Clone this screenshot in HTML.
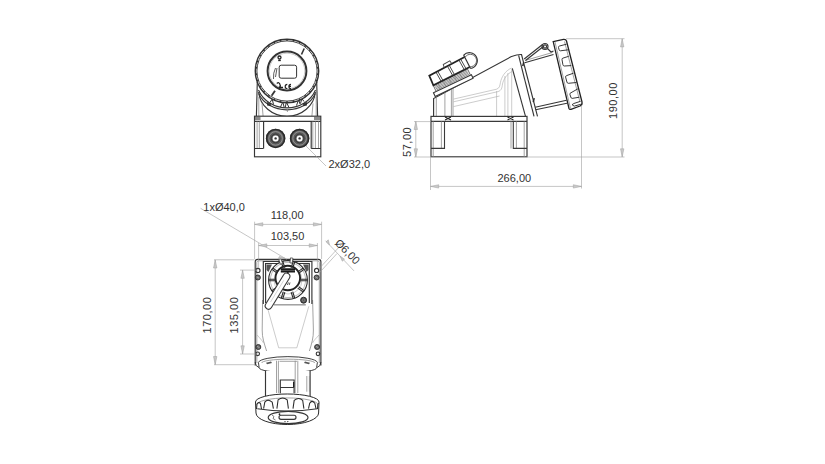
<!DOCTYPE html>
<html><head><meta charset="utf-8">
<style>
html,body{margin:0;padding:0;background:#fff;width:825px;height:464px;overflow:hidden}
svg{display:block}
text{font-family:"Liberation Sans",sans-serif;font-size:11px;fill:#333}
.o{fill:none;stroke:#363636;stroke-width:1.15}
.t{fill:none;stroke:#8a8a8a;stroke-width:0.8}
.l{fill:none;stroke:#aaa;stroke-width:0.6}
.d{fill:none;stroke:#a0a0a0;stroke-width:0.6}
.k{fill:#2a2a2a;stroke:none}
.w{fill:#fff}
.rv{letter-spacing:0.55px}
.ar{fill:#c8c8c8;stroke:#a0a0a0;stroke-width:0.5}
</style></head><body>
<svg width="825" height="464" viewBox="0 0 825 464">
<rect width="825" height="464" fill="#fff"/>
<!-- ===== FRONT VIEW (top-left) ===== -->
<g id="front">
  <!-- rear rim arcs -->
  <path class="o" d="M258.6 92 A28.5 26.5 0 0 0 315.4 92"/>
  <path class="o" d="M258.5 90 A30.5 27.8 0 0 0 315.5 90"/>
  <path class="o" d="M258.7 93.5 A30 24.5 0 0 0 315.3 93.5"/>
  <path fill="none" stroke="#333" stroke-width="1" d="M270 102.5 L272.2 99 L273.5 104.5 M280.5 107 L282.8 102 L284.2 107.4 M285.2 107.6 L286.4 102 L289 107.6 M296.5 105.5 L298.7 99.5 L300 104 M300.5 103.5 L301.9 98.5 L304 101.5"/>
  <line class="t" x1="287.4" y1="109" x2="287.4" y2="112"/>
  <path class="k" d="M267 102 L271.3 103.5 L270.5 106.3 L267 105.5 Z" opacity="0.85"/>
  <path class="k" d="M307 102 L302.7 103.5 L303.5 106.3 L307 105.5 Z" opacity="0.85"/>
  <!-- pillars -->
  <path class="o" d="M256.4 116.2 L257.3 82"/>
  <path class="t" d="M258.8 116.2 L258.8 97"/>
  <path class="t" d="M263.1 116.2 L262 103.4"/>
  <path class="o" d="M317.6 116.2 L316.7 82"/>
  <path class="t" d="M316.2 116.2 L316.2 97"/>
  <path class="t" d="M311.9 116.2 L313 103.4"/>
  <!-- cap ring -->
  <circle class="w" cx="287" cy="71" r="31.8"/>
  <circle cx="287" cy="71" r="31.7" fill="none" stroke="#333" stroke-width="1.45"/>
  <circle cx="287" cy="71" r="30.1" fill="none" stroke="#444" stroke-width="1"/>
  <path fill="none" stroke="#333" stroke-width="1.7" d="M317.0 74.2L318.6 74.3M315.7 80.3L317.2 80.8M313.2 86.1L314.5 86.9M309.4 91.2L310.6 92.3M304.8 95.4L305.7 96.7M299.3 98.6L299.9 100.1M293.3 100.5L293.6 102.1M287.0 101.2L287.0 102.8M280.7 100.5L280.4 102.1M274.7 98.6L274.1 100.1M269.2 95.4L268.3 96.7M264.6 91.2L263.4 92.3M260.8 86.1L259.5 86.9M258.3 80.3L256.8 80.8M257.0 74.2L255.4 74.3M257.0 67.8L255.4 67.7M258.3 61.7L256.8 61.2M260.8 55.9L259.5 55.1M264.6 50.8L263.4 49.7M269.2 46.6L268.3 45.3M274.7 43.4L274.1 41.9M280.7 41.5L280.4 39.9M287.0 40.8L287.0 39.2M293.3 41.5L293.6 39.9M299.3 43.4L299.9 41.9M304.8 46.6L305.7 45.3M309.4 50.8L310.6 49.7M313.2 55.9L314.5 55.1M315.7 61.7L317.2 61.2M317.0 67.8L318.6 67.7"/>
  <circle cx="287" cy="71" r="19.4" fill="none" stroke="#333" stroke-width="2"/>
  <circle class="l" cx="287" cy="71" r="17.8"/>
  <rect x="279.2" y="65.2" width="17.4" height="13" rx="2" fill="none" stroke="#333" stroke-width="1"/>
  <!-- symbols -->
  <circle cx="279.5" cy="57.5" r="1.5" fill="none" stroke="#222" stroke-width="1.3"/><path d="M278.2 60.4 h2.6" stroke="#222" stroke-width="1.5"/>
  <path d="M275.5 68 Q273 73 273.5 79 M277 68 L275.5 77" stroke="#333" stroke-width="0.8" fill="none"/>
  <path d="M276.8 83.5 q2.2 -2 3.2 1 q1 2 -1 3.2 M280 87.5 h3" stroke="#222" stroke-width="1.3" fill="none"/>
  <path d="M287.3 84.3 a2.1 2.1 0 1 0 0 4.2 M291 84.3 a2.1 2.1 0 1 0 0 4.2 M289.5 86.4 h1.5" stroke="#222" stroke-width="1.2" fill="none"/>
  <path d="M304.2 48.5 L301.5 54.5" stroke="#333" stroke-width="1.6"/>
  <path d="M275 90.8 L271.6 95.8" stroke="#333" stroke-width="1.8"/>
  <!-- box -->
  <rect class="w" x="254.5" y="116.2" width="66.3" height="40.6"/>
  <rect class="o" x="254.5" y="116.2" width="66.3" height="40.6"/>
  <line class="o" x1="254.5" y1="121.4" x2="320.8" y2="121.4"/>
  <rect class="k" x="255" y="116.8" width="5.5" height="3.2" opacity="0.55"/>
  <rect class="k" x="314" y="116.8" width="6.5" height="3.2" opacity="0.55"/>
  <path class="t" d="M257.1 121.4 V148.5 M259.3 121.4 V148.5 M312.8 121.4 V148.5 M315.4 121.4 V148.5 M318.5 121.4 V148.5"/>
  <path class="o" d="M311.2 121.4 V148.5 M263.6 121.4 V148.5" stroke="#555" stroke-width="1"/>
  <path d="M254.5 148.5 H263.5 M311.2 148.5 H320.8" stroke="#333" stroke-width="1.1"/>
  <!-- glands -->
  <g>
  <circle cx="275.6" cy="138.4" r="9.7" fill="#5a5a5a"/><circle cx="275.6" cy="138.4" r="9" fill="none" stroke="#2a2a2a" stroke-width="1.5"/>
  <circle cx="275.6" cy="138.4" r="6.8" fill="none" stroke="#9a9a9a" stroke-width="0.9"/>
  <circle cx="275.6" cy="138.4" r="4.4" fill="none" stroke="#333" stroke-width="0.9"/>
  <circle cx="275.6" cy="138.4" r="3" fill="#fff"/>
  <circle cx="275.6" cy="138.4" r="1.2" fill="#333"/>
  </g>
  <g>
  <circle cx="299.6" cy="138.4" r="9.7" fill="#5a5a5a"/><circle cx="299.6" cy="138.4" r="9" fill="none" stroke="#2a2a2a" stroke-width="1.5"/>
  <circle cx="299.6" cy="138.4" r="6.8" fill="none" stroke="#9a9a9a" stroke-width="0.9"/>
  <circle cx="299.6" cy="138.4" r="4.4" fill="none" stroke="#333" stroke-width="0.9"/>
  <circle cx="299.6" cy="138.4" r="3" fill="#fff"/>
  <circle cx="299.6" cy="138.4" r="1.2" fill="#333"/>
  </g>
  <line class="d" x1="306" y1="146" x2="326" y2="166"/>
  <text x="328.5" y="168.3">2xØ32,0</text>
</g>
<!-- ===== SIDE VIEW (top-right) ===== -->
<g id="side">
  <!-- body -->
  <path class="o" d="M433.6 116.3 L433.6 98.5 L510.9 56.8 Q519 54 521.5 54.6 L537.5 116.4"/>
  <path class="t" d="M436.3 116.3 L436.3 97.5"/>
  <path class="o" d="M518.6 55.4 L534 116.4"/>
  <path class="o" d="M512.3 68.3 L525.5 116.4"/>
  <path class="t" d="M444.9 116.3 L444.9 92 M451.4 116.3 L451.4 89 M453 116.3 L453 88.5"/>
  <!-- arch + ribs -->
  <path class="l" d="M453.5 99.1 L496.6 89.2 C499.6 88 499.8 86 500.4 82.7 C501.5 77 505 71 511.5 68"/>
  <path class="l" d="M453.5 101.8 L498 91.6 C501.5 90.5 502 88 502.5 84 C503.5 79 507 74 512 71.5"/>
  <path class="l" d="M453.5 106.6 L499.6 96"/>
  <path class="l" d="M496.6 116.3 L496.6 91 M504.9 116.3 L504.9 76 M507.9 116.3 L507.9 73 M511.7 116.3 L511.7 69"/>
  <!-- gland -->
  <g transform="translate(435.2 96.4) rotate(-25.5)">
    <rect x="0" y="-4" width="42" height="4" fill="#fff" stroke="#363636" stroke-width="1.1"/>
    <path d="M3 -4 L3 -10.5 L41 -10.5 L41 -4" fill="none" stroke="#555" stroke-width="0.8"/>
    <path d="M4 -5.3 h36 M4 -6.6 h36 M4 -7.9 h36 M4 -9.2 h36" fill="none" stroke="#555" stroke-width="0.6"/>
    <path d="M8 -4 v-6.5 M14 -4 v-6.5 M20 -4 v-6.5 M26 -4 v-6.5 M32 -4 v-6.5" fill="none" stroke="#777" stroke-width="0.5"/>
  </g>
  <g transform="translate(433.1 85.4) rotate(-27)">
    <path d="M41 -11 L1 -10.4 L0.3 0 L41 0.3" fill="#fff" stroke="#222" stroke-width="1.7"/>
    <path d="M41 -13.2 A8 8 0 1 1 41 2" fill="#fff" stroke="#333" stroke-width="1.1"/>
    <path d="M41.5 -10.7 A6.2 6.2 0 1 1 41.5 0.2" fill="none" stroke="#555" stroke-width="0.8"/>
    <path d="M41 -13.2 L41 2" fill="none" stroke="#333" stroke-width="1.2"/>
    <path d="M8.6 -10.5 L9 0.1 M10.6 -10.5 L11 0.1 M21.5 -10.7 L21.9 0.2 M23.5 -10.7 L23.9 0.2 M34.5 -10.9 L34.9 0.3 M36.5 -10.9 L36.9 0.3" fill="none" stroke="#333" stroke-width="0.8"/>
    <path d="M18 -10.6 L18.5 -14 L26 -14.2 L26.5 -10.7" fill="none" stroke="#444" stroke-width="0.9"/>
  </g>
  <!-- connector -->
  <path class="o" d="M524.7 62.8 L553.5 54.5 M535.2 107.2 L566.5 100.2 M535.6 109.8 L567 103.2"/><path class="t" d="M525 60.5 L552.5 52.5"/>
  <path class="o" d="M524.2 59 L542.5 44.5 M525.5 60.5 L544 46"/>
  <circle class="o" cx="545" cy="46.5" r="3"/>
  <circle class="o" cx="545" cy="46.5" r="1.6"/>
  <path class="o" d="M547.5 48.5 L551 52 L553.5 51"/>
  <rect class="k" x="523" y="62" width="1.5" height="4" transform="rotate(14 523 62)"/>
  <rect class="k" x="533.5" y="98" width="1.5" height="4" transform="rotate(14 533.5 98)"/>
  <!-- ring -->
  <path class="w" d="M553.3 41.9 L565.5 39.5 L582.5 103.5 L569.2 109.6 Z"/>
  <path d="M553.2 41.6 L563.5 39.4 Q566 39.2 566.5 41 L582 102 Q582.5 105 580 106 L571 109.3 Q569.5 109.8 569 108.5 Z" fill="none" stroke="#222" stroke-width="1.3"/>
  <path class="t" d="M555 42 L570.5 108.5" stroke="#555" stroke-width="0.7"/>
  <path class="t" d="M564.5 41.5 L580 102"/>
  <path fill="none" stroke="#222" stroke-width="0.9" d="M566.5 44.2 L559.5 46.0 Q558.3 46.3 558.5 47.5 L559.0 49.5 Q559.2 50.7 560.4 50.8 L568.3 49.8 M568.7 56.3 L563.0 58.1 Q561.8 58.4 562.0 59.6 L562.9 64.7 Q563.1 65.9 564.3 66.0 L571.3 65.6 M573.5 73.2 L566.6 75.6 Q565.4 75.9 565.6 77.1 L566.9 82.0 Q567.1 83.2 568.3 83.3 L576.5 82.5 M577.9 88.8 L570.9 92.8 Q569.7 93.1 569.9 94.3 L570.8 97.1 Q571.0 98.3 572.2 98.4 L579.4 97.2 M580.5 101.3 L573.5 103.6 Q572.3 103.9 572.5 105.1 L572.9 104.8 Q573.1 106.0 574.3 106.1 L580.8 104.3"/>
  <!-- base box -->
  <rect class="w" x="431" y="116.4" width="96" height="40.3"/>
  <rect x="431" y="116.4" width="96" height="40.3" fill="none" stroke="#3a3a3a" stroke-width="1.2"/>
  <line x1="431" y1="121.4" x2="527" y2="121.4" stroke="#3a3a3a" stroke-width="1.1"/>
  <path class="t" d="M433.2 121.4 V156.7 M441.4 121.4 V148.5 M511 121.4 V148.5 M516.4 121.4 V148.5 M524.2 121.4 V156.7"/>
  <path d="M444.5 121.4 V148.4 H431 M513.3 121.4 V148.4 H527" fill="none" stroke="#3a3a3a" stroke-width="1.1"/>
  <path d="M445 117 l6 3 M445 120 l6 -3 M507.5 117 l6 3 M507.5 120 l6 -3" stroke="#222" stroke-width="1.1"/>
  <!-- dims -->
  <line class="d" x1="414" y1="121.6" x2="430.6" y2="121.6"/>
  <line class="d" x1="414" y1="157" x2="624.5" y2="157"/>
  <line class="d" x1="415.8" y1="121.3" x2="415.8" y2="157"/>
  <path class="ar" d="M415.8 121.5 l-1.7 8 h3.4 Z M415.8 156.8 l-1.7 -8 h3.4 Z"/>
  <line class="d" x1="430.5" y1="157" x2="430.5" y2="190"/>
  <line class="d" x1="581.5" y1="105" x2="581.5" y2="188.5"/>
  <line class="d" x1="430.5" y1="186.4" x2="581.5" y2="186.4"/>
  <path class="ar" d="M430.7 186.4 l8 -1.7 v3.4 Z M581.3 186.4 l-8 -1.7 v3.4 Z"/>
  <line class="d" x1="566" y1="38.7" x2="624.5" y2="38.7"/>
  <line class="d" x1="622.2" y1="38.7" x2="622.2" y2="157"/>
  <path class="ar" d="M622.2 38.9 l-1.7 8 h3.4 Z M622.2 156.8 l-1.7 -8 h3.4 Z"/>
  <text x="497.5" y="181.6">266,00</text>
  <text class="rv" transform="translate(411.2 157) rotate(-90)">57,00</text>
  <text class="rv" transform="translate(617.4 119) rotate(-90)">190,00</text>
</g>
<!-- ===== BOTTOM VIEW ===== -->
<g id="bottom">
  <!-- body -->
  <path class="o" d="M255.2 365.5 L255.2 261.8 Q255.2 259.3 257.7 259.3 L318.4 259.3 Q320.9 259.3 320.9 261.8 L320.9 365.5"/>
  <path class="t" d="M256.8 363 L256.8 262.5 Q256.8 260.8 258.5 260.8 L317.6 260.8 Q319.3 260.8 319.3 262.5 L319.3 363"/>
  <path class="t" d="M262.6 300 L262.2 330 C262 338 264.5 344 266.6 351"/>
  <path class="t" d="M312.6 300 L313.4 330 C313.6 338 311.5 344 309.4 351"/>
  <path class="l" d="M257.2 335 C259.5 338 262 340 263.5 343 M319 335 C316.5 338 314 340 312.5 343"/>
  <path class="l" d="M268.1 310.1 L278.7 347.8 L296.8 347.8 L308.8 306.3"/>
  <line x1="274" y1="304.8" x2="305.8" y2="304.8" stroke="#999" stroke-width="1.4"/>
  <!-- window frame -->
  <path class="o" d="M263.3 304 L263.3 261.5 L311.9 261.5 L311.9 304"/>
  <path class="o" d="M265.6 303 L265.6 263.5 L309.3 263.5 L309.3 303"/>
  <path class="k" d="M266.5 264.5 L272 264.5 L268.5 272 L266.5 270 Z" opacity="0.8"/>
  <path class="k" d="M308.5 264.5 L303 264.5 L306.5 272 L308.5 270 Z" opacity="0.8"/>
  <!-- socket ring -->
  <circle cx="288" cy="280" r="19.4" fill="#fff" stroke="#2a2a2a" stroke-width="1.1"/>
  <circle cx="288" cy="280" r="17.6" fill="none" stroke="#999" stroke-width="0.7"/><circle cx="288" cy="280" r="14" fill="none" stroke="#aaa" stroke-width="0.6"/>
  <circle cx="287.8" cy="278" r="12.3" fill="#fff" stroke="#222" stroke-width="1.9"/>
  <path fill="none" stroke="#2a2a2a" stroke-width="1.1" d="M291.1 267.8L293.2 261.5M292.7 268.3L294.7 262.0M297.7 271.9L303.1 268.1M298.7 273.2L304.0 269.4M300.6 279.2L307.2 279.2M300.6 280.8L307.2 280.8M298.7 286.8L304.0 290.6M297.7 288.1L303.1 291.9M292.7 291.7L294.7 298.0M291.1 292.2L293.2 298.5M284.9 292.2L282.8 298.5M283.3 291.7L281.3 298.0M278.3 288.1L272.9 291.9M277.3 286.8L272.0 290.6M275.4 280.8L268.8 280.8M275.4 279.2L268.8 279.2M277.3 273.2L272.0 269.4M278.3 271.9L272.9 268.1M283.3 268.3L281.3 262.0M284.9 267.8L282.8 261.5"/>
  <rect x="279.5" y="259" width="2.4" height="5" fill="#fff" stroke="#333" stroke-width="0.7" transform="rotate(-20 280.7 261.5)"/>
  <rect x="290.2" y="258" width="2.4" height="5" fill="#fff" stroke="#333" stroke-width="0.7" transform="rotate(8 291.4 260.5)"/>
  <!-- logo -->
  <path d="M280.8 269.2 h14.2 M280.8 271.4 h14.2" stroke="#1a1a1a" stroke-width="2"/>
  <path d="M287.8 272 v4" stroke="#222" stroke-width="1.6"/>
  <path d="M288.5 282.5 l-1.2 2.5 M290 282.5 l-0.8 2.5" stroke="#333" stroke-width="0.8"/>
  <!-- lever -->
  <path d="M286.5 276.5 L268.6 305.8" stroke="#3a3a3a" stroke-width="7.8" stroke-linecap="round"/>
  <path d="M286.5 276.5 L268.6 305.8" stroke="#fff" stroke-width="5.6" stroke-linecap="round"/>
  <path d="M283.8 280.3 L270.5 302" stroke="#aaa" stroke-width="0.5"/>
  <!-- holes & screws -->
  <circle class="o" cx="257.9" cy="270.4" r="2.1"/>
  <circle class="o" cx="316.6" cy="270.4" r="2.1"/>
  <circle cx="257.9" cy="277.5" r="2.5" fill="#6a6a6a" stroke="#2a2a2a" stroke-width="0.9"/><path d="M256.7 276.8 l2.4 1.4" stroke="#ccc" stroke-width="0.6"/>
  <circle cx="316.6" cy="277.5" r="2.5" fill="#6a6a6a" stroke="#2a2a2a" stroke-width="0.9"/><path d="M315.40000000000003 276.8 l2.4 1.4" stroke="#ccc" stroke-width="0.6"/>
  <circle cx="303.6" cy="300.2" r="3" fill="#555" stroke="#222" stroke-width="0.9"/>
  <circle cx="303.6" cy="300.2" r="1.3" fill="none" stroke="#999" stroke-width="0.5"/>
  <circle cx="258.3" cy="347" r="2.5" fill="#6a6a6a" stroke="#2a2a2a" stroke-width="0.9"/><path d="M257.1 346.3 l2.4 1.4" stroke="#ccc" stroke-width="0.6"/>
  <circle cx="317.1" cy="347" r="2.5" fill="#6a6a6a" stroke="#2a2a2a" stroke-width="0.9"/><path d="M315.90000000000003 346.3 l2.4 1.4" stroke="#ccc" stroke-width="0.6"/>
  <circle class="o" cx="257.7" cy="353.8" r="1.8"/>
  <circle class="o" cx="318" cy="353.8" r="1.8"/>
  <!-- collar -->
  <path d="M255.2 362 Q255.4 366.5 259 367.5" fill="none" stroke="#2a2a2a" stroke-width="0.9"/>
  <path d="M320.9 362 Q320.7 366.5 317 367.5" fill="none" stroke="#2a2a2a" stroke-width="0.9"/>
  <path d="M258.4 362.4 A29.6 6.3 0 0 1 317.4 362.4 L316.6 367.8 A28.7 4.7 0 0 1 259.2 367.8 Z" fill="#fff" stroke="#2a2a2a" stroke-width="0.9"/>
  <path class="t" d="M261.6 363 A26.5 3.8 0 0 1 314.8 363"/>
  <path class="k" d="M266 362.8 l5 -1.2 l1 1.5 l-5 1.2 Z M310 362.8 l-5 -1.2 l-1 1.5 l5 1.2 Z" opacity="0.8"/>
  <!-- cylinder -->
  <path class="t" d="M279.5 361.3 H297"/>
  <path class="w" d="M265.5 371 L265.5 396 L310.1 396 L310.1 371 Z"/>
  <path class="o" d="M265.5 370.8 L265.5 396 M310.1 370.8 L310.1 396"/>
  <path class="t" d="M276.5 360.7 L276.5 393 M278.4 360.7 L278.4 393 M295.2 360.7 L295.2 393 M297.8 360.7 L297.8 393" stroke="#444"/>
  <path class="o" d="M280.3 393.2 L280.3 380 L294.1 380 L294.1 393.2 M280.3 387.5 L294.1 387.5"/><path d="M293.6 382 V387" stroke="#222" stroke-width="1.2"/>
  <path class="t" d="M306.8 376 L306.8 391.7 M309.4 376 L309.4 391.7"/>
  <!-- cap -->
  <path d="M255.5 402 A31.7 8 0 0 1 319 402 L318.6 413 A31.3 11.5 0 0 1 256 413 Z" fill="#fff" stroke="#2a2a2a" stroke-width="1"/>
  <path class="t" d="M256.5 405 A30.5 7 0 0 1 318.2 405" stroke="#666"/>
  <path class="o" d="M257.3 408.8 Q287 413.5 317.5 408.8"/>
  <path fill="none" stroke="#2a2a2a" stroke-width="1.05" d="M263.6 408.6 L264.8 402.1 Q267.6 398.4 272.2 402.1 L273.4 408.6 M276.9 408.6 L278.1 399.8 Q282.6 396.1 287.2 399.8 L288.4 408.6 M293.0 408.6 L294.2 400.4 Q298.8 396.7 302.7 400.4 L303.9 408.6 M308.5 408.6 L309.7 403.2 Q312.0 399.5 314.8 403.2 L316.0 408.6 M256.5 409 L257 404 Q258.8 401.5 260.5 403.5 L261.5 409 M317.5 409 L317.8 404.5 Q318.3 403 318.8 403.8"/>
  <ellipse class="o" cx="288.1" cy="417.5" rx="19.9" ry="6.2"/>
  <rect class="o" x="279" y="415.2" width="17" height="4.1" rx="2"/>
  <circle cx="279.5" cy="414.2" r="0.9" fill="#222"/>
  <path d="M272 415 l2 1.5 l-1 2 l2.5 1.5" stroke="#444" stroke-width="0.7" fill="none"/>
  <circle cx="285" cy="421.6" r="0.7" fill="#333"/>
  <circle cx="287.8" cy="421.6" r="0.7" fill="#333"/>
  <!-- dims -->
  <line class="d" x1="200.6" y1="208.3" x2="287" y2="259.5"/>
  <path class="ar" d="M285 258.3 l-5.5 -1.9 l-1.4 2.4 Z"/>
  <text x="203.3" y="210.8">1xØ40,0</text>
  <line class="d" x1="254.6" y1="224.4" x2="321.6" y2="224.4"/>
  <path class="ar" d="M254.8 224.4 l8 -1.7 v3.4 Z M321.4 224.4 l-8 -1.7 v3.4 Z"/>
  <line class="d" x1="254.6" y1="221.7" x2="254.6" y2="259"/>
  <line class="d" x1="321.6" y1="221.7" x2="321.6" y2="259"/>
  <text x="270.7" y="219.1">118,00</text>
  <line class="d" x1="258.6" y1="245.5" x2="317.4" y2="245.5"/>
  <path class="ar" d="M258.8 245.5 l8 -1.7 v3.4 Z M317.2 245.5 l-8 -1.7 v3.4 Z"/>
  <line class="d" x1="258.6" y1="243" x2="258.6" y2="268"/>
  <line class="d" x1="317.4" y1="243" x2="317.4" y2="268"/>
  <text x="270.7" y="240.2">103,50</text>
  <line class="d" x1="325.5" y1="240.7" x2="354" y2="270.9"/>
  <path class="ar" d="M329.5 245 l-1.2 -5.2 l-2.2 2 Z M340 256 l4.5 3.2 l-2.2 2 Z"/>
  <line class="d" x1="320" y1="267.7" x2="341" y2="245"/>
  <line class="d" x1="319.4" y1="272.8" x2="337" y2="253.5"/>
  <text transform="translate(334.2 243.8) rotate(45)">Ø6,00</text>
  <line class="d" x1="214" y1="259.8" x2="254.4" y2="259.8"/>
  <line class="d" x1="214" y1="364.7" x2="255" y2="364.7"/>
  <line class="d" x1="215.2" y1="259.8" x2="215.2" y2="364.7"/>
  <path class="ar" d="M215.2 260 l-1.7 8 h3.4 Z M215.2 364.5 l-1.7 -8 h3.4 Z"/>
  <line class="d" x1="240" y1="270.1" x2="257" y2="270.1"/>
  <line class="d" x1="240" y1="354" x2="257" y2="354"/>
  <line class="d" x1="242.6" y1="270.1" x2="242.6" y2="354"/>
  <path class="ar" d="M242.6 270.3 l-1.7 8 h3.4 Z M242.6 353.8 l-1.7 -8 h3.4 Z"/>
  <text class="rv" transform="translate(211 333.5) rotate(-90)">170,00</text>
  <text class="rv" transform="translate(238.1 333.5) rotate(-90)">135,00</text>
</g>
</svg></body></html>
